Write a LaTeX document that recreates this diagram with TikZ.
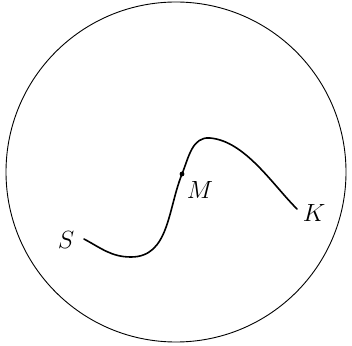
\documentclass[tikz,border=0pt]{standalone}
\usepackage{tikz}
\tikzset{
lbl/.style={font=\fontsize{28}{32}\selectfont},
path/.style={line width=1.6pt,line cap=round}
}
\begin{document}
\begin{tikzpicture}[x=1pt,y=1pt]
\useasboundingbox (0,0) rectangle (352,345);
\node[circle,draw,line width=0.9pt,minimum size=340pt,inner sep=0pt] (disk) at (176,173) {};
\coordinate (s) at (84,106);
\coordinate (b) at (131,88);
\coordinate (m) at (182,171);
\coordinate (p) at (210,207);
\coordinate (k) at (297,136);
\draw[path] (s) to[out=-28,in=180] (b) to[out=0,in=-112] (m) to[out=68,in=175] (p) to[out=-5,in=135,looseness=0.8] (k);
\fill (m) circle (2.4pt);
\node[lbl] (ls) at (66,105) {$S$};
\node[lbl] (lm) at (200,155) {$M$};
\node[lbl] (lk) at (314,132) {$K$};
\end{tikzpicture}
\end{document}
